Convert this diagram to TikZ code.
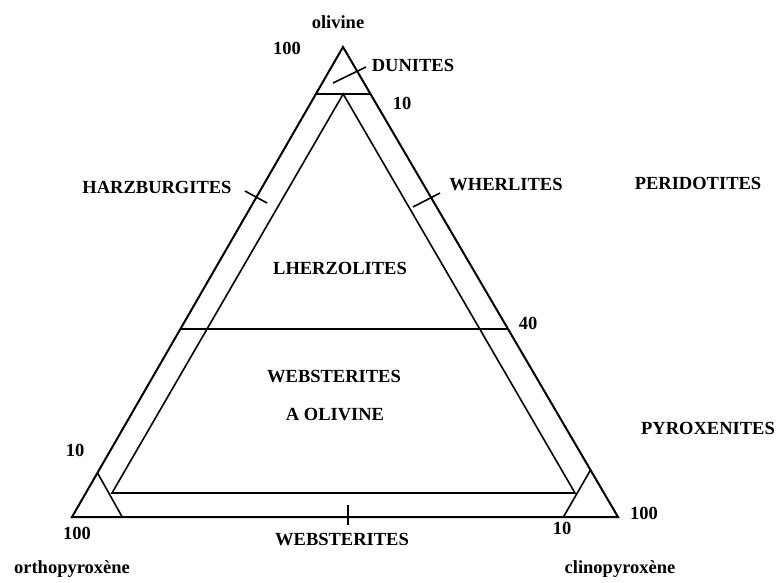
\documentclass[tikz,border=0pt]{standalone}
\usepackage{fontspec}
\setmainfont{Liberation Serif}
\usetikzlibrary{calc}

\begin{document}
\begin{tikzpicture}[x=1pt,y=-1pt,
  outer/.style={line width=2pt,line join=miter},
  inner/.style={line width=1.6pt},
  lbl/.style={font=\bfseries\fontsize{18.5}{20}\selectfont,inner sep=0pt}]
\useasboundingbox (0,0) rectangle (781,583);
% corners of the diagram
\coordinate (ol) at (343,47);
\coordinate (opx) at (72,517);
\coordinate (cpx) at (618,517);
% field boundaries
\coordinate (dunL) at ($(ol)!0.1!(opx)$);
\coordinate (dunR) at ($(ol)!0.1!(cpx)$);
\coordinate (top) at ($(dunL)!0.5!(dunR)$);
\coordinate (quaL) at ($(ol)!0.6!(opx)$);
\coordinate (quaR) at ($(ol)!0.6!(cpx)$);
\coordinate (webL) at (112,493);
\coordinate (webR) at (575,493);
\coordinate (opxA) at ($(opx)!0.094!(ol)$);
\coordinate (opxB) at ($(opx)!0.092!(cpx)$);
\coordinate (cpxA) at ($(cpx)!0.1!(ol)$);
\coordinate (cpxB) at ($(cpx)!0.1!(opx)$);
\draw[outer] (ol) -- (opx) -- (cpx) -- cycle;
\draw[inner] (dunL) -- (dunR);
\draw[inner] (webL) -- (top) -- (webR) -- cycle;
\draw[inner] (quaL) -- (quaR);
\draw[inner] (opxA) -- (opxB);
\draw[inner] (cpxA) -- (cpxB);
% ticks
\coordinate (dunT1) at (333,83);
\coordinate (dunT2) at (366,67);
\coordinate (harT1) at (245,191);
\coordinate (harT2) at (267,203);
\coordinate (wheT1) at (413,207);
\coordinate (wheT2) at (440,193);
\coordinate (webT1) at (348,505);
\coordinate (webT2) at (348,525);
\draw[inner] (dunT1) -- (dunT2);
\draw[inner] (harT1) -- (harT2);
\draw[inner] (wheT1) -- (wheT2);
\draw[inner] (webT1) -- (webT2);
% labels
\node[lbl] (olivine) at (338,22) {olivine};
\node[lbl] (olHundred) at (287,48) {100};
\node[lbl] (dunites) at (413,65) {DUNITES};
\node[lbl] (dunTen) at (402,103) {10};
\node[lbl] (harzburgites) at (157,187) {HARZBURGITES};
\node[lbl] (wherlites) at (506,185) {WHERLITES};
\node[lbl] (peridotites) at (698,183) {PERIDOTITES};
\node[lbl] (lherzolites) at (340,268) {LHERZOLITES};
\node[lbl] (quaForty) at (528,323) {40};
\node[lbl] (olWeb) at (334,377) {WEBSTERITES};
\node[lbl] (olOlivine) at (335,415) {A OLIVINE};
\node[lbl] (pyroxenites) at (708,428) {PYROXENITES};
\node[lbl] (opxTen) at (75,450) {10};
\node[lbl] (cpxHundred) at (644,513) {100};
\node[lbl] (opxHundred) at (77,533) {100};
\node[lbl] (cpxTen) at (562,528) {10};
\node[lbl] (websterites) at (342,540) {WEBSTERITES};
\node[lbl,anchor=base] (orthopyroxene) at (72,573) {orthopyroxène};
\node[lbl,anchor=base] (clinopyroxene) at (620,573) {clinopyroxène};
\end{tikzpicture}
\end{document}
